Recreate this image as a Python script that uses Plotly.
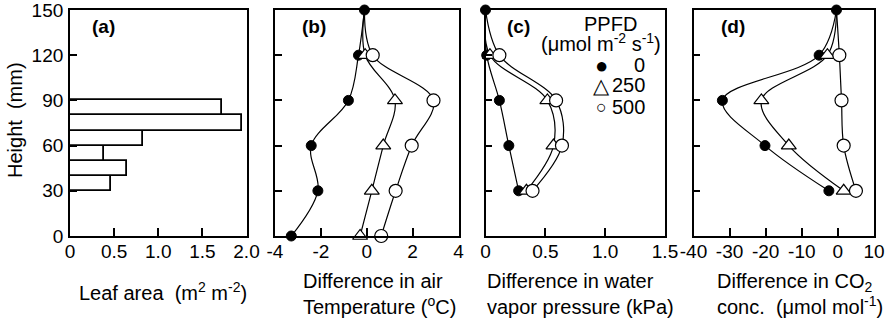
import plotly.graph_objects as go

# ---------------- data ----------------
heights = [0, 30, 60, 90, 120, 150]
leaf_layer_mid = [35, 45, 55, 65, 75, 85]
leaf_area = [0.47, 0.645, 0.38, 0.83, 1.95, 1.72]

temp_0 = [-3.29, -2.13, -2.42, -0.80, -0.36, -0.10]
temp_250 = [-0.29, 0.22, 0.72, 1.23, -0.07, -0.10]
temp_500 = [0.63, 1.26, 1.96, 2.91, 0.26, -0.10]

vp_heights = [30, 60, 90, 120, 150]
vp_0 = [0.277, 0.195, 0.116, 0.010, 0.0]
vp_250 = [0.342, 0.568, 0.517, 0.037, 0.0]
vp_500 = [0.393, 0.639, 0.590, 0.116, 0.0]

co2_heights = [30, 60, 90, 120, 150]
co2_0 = [-2.5, -20.2, -32.0, -5.2, -0.4]
co2_250 = [1.6, -13.6, -21.2, -2.9, -0.4]
co2_500 = [5.0, 1.6, 1.0, 0.4, -0.4]

ppfd_levels = ["0", "250", "500"]
legend_glyphs = ["\u25CF", "\u25B3", "\u25CB"]

y_ticks = [0, 30, 60, 90, 120, 150]
xa_ticks, xa_text = [0, 0.5, 1.0, 1.5, 2.0], ["0", "0.5", "1.0", "1.5", "2.0"]
xb_ticks, xb_text = [-4, -2, 0, 2, 4], ["-4", "-2", "0", "2", "4"]
xc_ticks, xc_text = [0, 0.5, 1.0, 1.5], ["0", "0.5", "1.0", "1.5"]
xd_ticks, xd_text = [-40, -30, -20, -10, 0, 10], ["-40", "-30", "-20", "-10", "0", "10"]

# ---------------- layout helpers ----------------
W, H = 892, 322
FONT = "Liberation Sans, Arial, Helvetica, sans-serif"
def px(x):
    return x / W
def py(y):
    return 1 - y / H

y_dom = [py(236), py(10)]
x_doms = [[px(70), px(246.5)], [px(275), px(458.5)], [px(485.5), px(665)], [px(693.5), px(874)]]

fig = go.Figure()

# panel (a) bars
fig.add_trace(go.Bar(
    x=leaf_area, y=leaf_layer_mid, orientation="h", width=10,
    marker=dict(color="white", line=dict(color="black", width=1.8)),
    xaxis="x", yaxis="y", showlegend=False))

style = {
    "0": dict(symbol="circle", size=10, color="black", line=dict(color="black", width=1)),
    "250": dict(symbol="triangle-up", size=13, color="white", line=dict(color="black", width=1.2)),
    "500": dict(symbol="circle", size=13, color="white", line=dict(color="black", width=1.2)),
}

def add_series(xs, ys, key, xa, ya, hide_top):
    m = dict(style[key])
    if hide_top:
        m["opacity"] = [0 if y == 150 else 1 for y in ys]
    fig.add_trace(go.Scatter(
        x=xs, y=ys, mode="lines+markers",
        line=dict(color="black", width=1.2, shape="spline", smoothing=1.0),
        marker=m, xaxis=xa, yaxis=ya, showlegend=False, cliponaxis=False))

add_series(temp_0, heights, "0", "x2", "y2", False)
add_series(temp_250, heights, "250", "x2", "y2", True)
add_series(temp_500, heights, "500", "x2", "y2", True)

add_series(vp_0, vp_heights, "0", "x3", "y3", False)
add_series(vp_250, vp_heights, "250", "x3", "y3", True)
add_series(vp_500, vp_heights, "500", "x3", "y3", True)

add_series(co2_0, co2_heights, "0", "x4", "y4", False)
add_series(co2_250, co2_heights, "250", "x4", "y4", True)
add_series(co2_500, co2_heights, "500", "x4", "y4", True)

tickfont = dict(family=FONT, size=19, color="black")
common_x = dict(showline=True, linecolor="black", linewidth=1.8, mirror=True,
                ticks="inside", ticklen=8, tickwidth=1.5, tickcolor="black",
                showgrid=False, zeroline=False, tickfont=tickfont, automargin=False,
                ticklabelstandoff=-3, ticklabeloverflow="allow", tickmode="array")
common_y = dict(showline=True, linecolor="black", linewidth=1.8, mirror=True,
                ticks="inside", ticklen=7, tickwidth=1.5, tickcolor="black",
                showgrid=False, zeroline=False, tickfont=tickfont, automargin=False,
                ticklabeloverflow="allow",
                range=[0, 150], domain=y_dom, tickmode="array", tickvals=y_ticks)

fig.update_layout(
    width=W, height=H, margin=dict(l=0, r=0, t=0, b=0, autoexpand=False),
    paper_bgcolor="white", plot_bgcolor="white",
    font=dict(family=FONT, color="black"),
    bargap=0,
    xaxis=dict(common_x, domain=x_doms[0], range=[0, 2.0], tickvals=xa_ticks, ticktext=xa_text, anchor="y"),
    xaxis2=dict(common_x, domain=x_doms[1], range=[-4, 4], tickvals=xb_ticks, ticktext=xb_text, anchor="y2"),
    xaxis3=dict(common_x, domain=x_doms[2], range=[0, 1.5], tickvals=xc_ticks, ticktext=xc_text, anchor="y3"),
    xaxis4=dict(common_x, domain=x_doms[3], range=[-40, 10], tickvals=xd_ticks, ticktext=xd_text, anchor="y4"),
    yaxis=dict(common_y, anchor="x", ticklabelstandoff=1),
    yaxis2=dict(common_y, anchor="x2", showticklabels=False),
    yaxis3=dict(common_y, anchor="x3", showticklabels=False),
    yaxis4=dict(common_y, anchor="x4", showticklabels=False),
)

def ann(text, x, y, size=20, xanchor="center", align="center", angle=0, bold=False):
    if bold:
        text = "<b>" + text + "</b>"
    fig.add_annotation(text=text, x=px(x), y=py(y), xref="paper", yref="paper",
                       xanchor=xanchor, yanchor="middle", align=align, showarrow=False,
                       textangle=angle, font=dict(family=FONT, size=size, color="black"))

# panel labels
ann("(a)", 103, 27, size=19, bold=True)
ann("(b)", 314, 27, size=19, bold=True)
ann("(c)", 518, 26, size=19, bold=True)
ann("(d)", 733, 27, size=19, bold=True)

# axis titles
ann("Height  (mm)", 15, 120, angle=-90)
ann("Leaf area  (m<sup>2</sup> m<sup>-2</sup>)", 163, 291)
ann("Difference in air<br>Temperature (<sup>o</sup>C)", 301, 294, xanchor="left", align="left")
ann("Difference in water<br>vapor pressure (kPa)", 485, 294, xanchor="left", align="left")
ann("Difference in CO<sub>2</sub><br>conc.  (μmol mol<sup>-1</sup>)", 715, 294, xanchor="left", align="left")

# legend (panel c)
ann("PPFD", 610, 24)
ann("(μmol m<sup>-2</sup> s<sup>-1</sup>)", 601, 43)
legend_rows = [65, 85, 107]
glyph_sizes = [22, 21, 18]
for lab, g, yy, gs in zip(ppfd_levels, legend_glyphs, legend_rows, glyph_sizes):
    ann(g, 601, yy, size=gs)
    ann(lab, 647, yy, xanchor="right")

fig.write_html("out.html")
